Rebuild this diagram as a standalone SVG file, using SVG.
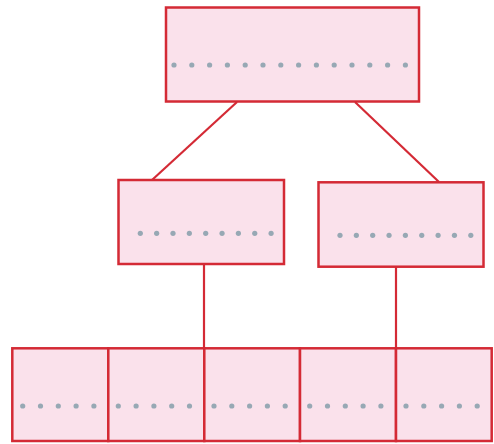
<svg xmlns="http://www.w3.org/2000/svg" width="494" height="444" viewBox="0 0 494 444">
<style>
.n{fill:#fae1eb;stroke:#d42a35;stroke-width:2.5}
.e{stroke:#d42a35;stroke-width:2.2;fill:none}
.d{fill:#97a8b4}
</style>
<defs>
<circle id="dot" r="2.6" class="d"/>
</defs>
<g id="connectors">
<line class="e" x1="237" y1="102" x2="152" y2="180"/>
<line class="e" x1="355" y1="102" x2="439" y2="182"/>
<line class="e" x1="204" y1="264" x2="204" y2="348"/>
<line class="e" x1="396" y1="267" x2="396" y2="348"/>
</g>
<g id="top">
<rect class="n" x="166" y="7.5" width="253" height="94"/>
<g transform="translate(174,65)">
<use href="#dot" x="0"/><use href="#dot" x="17.8"/><use href="#dot" x="35.6"/><use href="#dot" x="53.4"/><use href="#dot" x="71.2"/><use href="#dot" x="89"/><use href="#dot" x="106.8"/><use href="#dot" x="124.6"/><use href="#dot" x="142.4"/><use href="#dot" x="160.2"/><use href="#dot" x="178"/><use href="#dot" x="195.8"/><use href="#dot" x="213.6"/><use href="#dot" x="231.4"/>
</g>
</g>
<g id="midLeft">
<rect class="n" x="118.5" y="180" width="165.5" height="84"/>
<g transform="translate(140.3,233.3)">
<use href="#dot" x="0"/><use href="#dot" x="16.35"/><use href="#dot" x="32.7"/><use href="#dot" x="49.05"/><use href="#dot" x="65.4"/><use href="#dot" x="81.75"/><use href="#dot" x="98.1"/><use href="#dot" x="114.45"/><use href="#dot" x="130.8"/>
</g>
</g>
<g id="midRight">
<rect class="n" x="318.5" y="182.3" width="165" height="84.4"/>
<g transform="translate(340,235.3)">
<use href="#dot" x="0"/><use href="#dot" x="16.35"/><use href="#dot" x="32.7"/><use href="#dot" x="49.05"/><use href="#dot" x="65.4"/><use href="#dot" x="81.75"/><use href="#dot" x="98.1"/><use href="#dot" x="114.45"/><use href="#dot" x="130.8"/>
</g>
</g>
<g id="leaf1">
<rect class="n" x="12.3" y="348.3" width="96" height="92.7"/>
<g transform="translate(22.7,406)"><use href="#dot" x="0"/><use href="#dot" x="17.8"/><use href="#dot" x="35.6"/><use href="#dot" x="53.4"/><use href="#dot" x="71.2"/></g>
</g>
<g id="leaf2">
<rect class="n" x="108.3" y="348.3" width="96" height="92.7"/>
<g transform="translate(118.3,406)"><use href="#dot" x="0"/><use href="#dot" x="17.8"/><use href="#dot" x="35.6"/><use href="#dot" x="53.4"/><use href="#dot" x="71.2"/></g>
</g>
<g id="leaf3">
<rect class="n" x="204.3" y="348.3" width="95.7" height="92.7"/>
<g transform="translate(214,406)"><use href="#dot" x="0"/><use href="#dot" x="17.8"/><use href="#dot" x="35.6"/><use href="#dot" x="53.4"/><use href="#dot" x="71.2"/></g>
</g>
<g id="leaf4">
<rect class="n" x="300" y="348.3" width="96" height="92.7"/>
<g transform="translate(309.7,406)"><use href="#dot" x="0"/><use href="#dot" x="17.8"/><use href="#dot" x="35.6"/><use href="#dot" x="53.4"/><use href="#dot" x="71.2"/></g>
</g>
<g id="leaf5">
<rect class="n" x="396" y="348.3" width="95.7" height="92.7"/>
<g transform="translate(406,406)"><use href="#dot" x="0"/><use href="#dot" x="17.8"/><use href="#dot" x="35.6"/><use href="#dot" x="53.4"/><use href="#dot" x="71.2"/></g>
</g>
</svg>
